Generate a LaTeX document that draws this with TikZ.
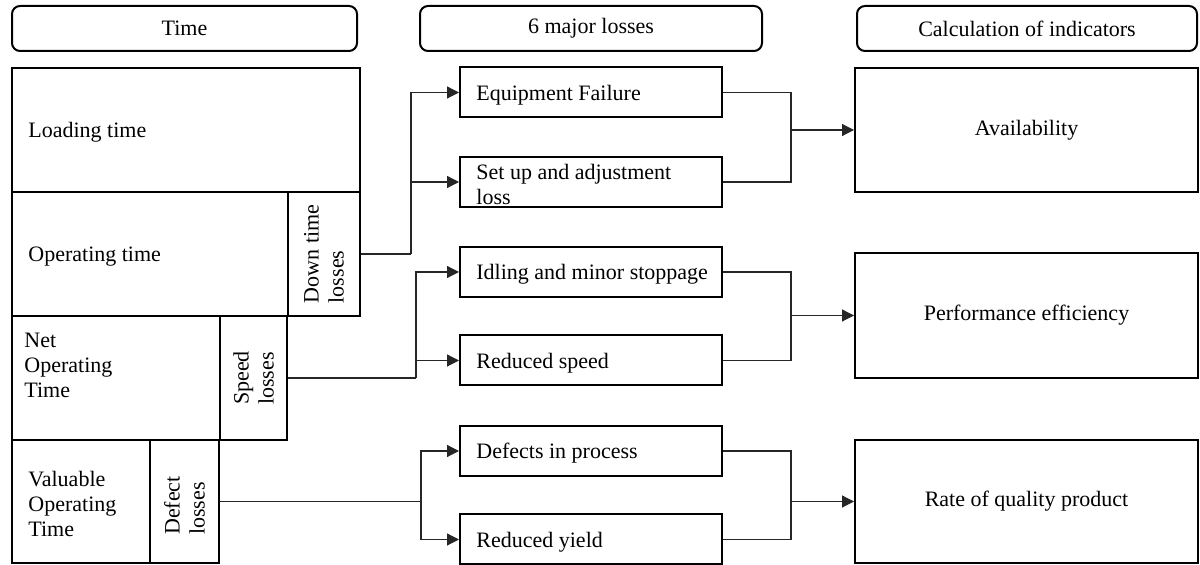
\documentclass[tikz,border=0pt]{standalone}
\usepackage{fontspec}
\setmainfont{Liberation Serif}
\usetikzlibrary{arrows.meta,calc}
\newcommand\lowr[1]{\raisebox{-1.2pt}{#1}}
\begin{document}
\begin{tikzpicture}[x=0.5pt,y=-0.5pt,
  every node/.style={font=\fontsize{11}{12.5}\selectfont},
  frame/.style={draw=black,line width=1pt,inner sep=0pt,rectangle},
  hdr/.style={draw=black,line width=1pt,rounded corners=4pt,inner sep=0pt,minimum height=22.5pt},
  mid/.style={frame,minimum width=131pt,minimum height=25pt},
  res/.style={frame,minimum width=171.5pt,minimum height=62pt},
  lbl/.style={anchor=west,inner sep=0pt,align=left,yshift=-1.2pt},
  rot/.style={rotate=90,align=left,inner sep=0pt},
  conn/.style={draw=black!85,line width=0.6pt},
  arr/.style={conn,-{Triangle[length=6pt,width=6pt]}}]
\useasboundingbox (0,0) rectangle (1200,565);
% headers
\node[hdr,minimum width=172.5pt] (h1) at (184.5,28.5) {\lowr{Time}};
\node[hdr,minimum width=171pt] (h2) at (591,28.5) {\lowr{6 major losses}};
\node[hdr,minimum width=170pt] (h3) at (1027,28.5) {\lowr{Calculation of indicators}};
% left column
\node[frame,minimum width=174pt,minimum height=62pt] (load) at (186,130) {};
\node[frame,minimum width=138pt,minimum height=62pt] (oper) at (150,254) {};
\node[frame,minimum width=36pt,minimum height=62pt] (down) at (324,254) {};
\node[frame,minimum width=104pt,minimum height=62pt] (net) at (116,378) {};
\node[frame,minimum width=33.5pt,minimum height=62pt] (speed) at (253.5,378) {};
\node[frame,minimum width=69pt,minimum height=61.5pt] (valu) at (81,501.5) {};
\node[frame,minimum width=34.5pt,minimum height=61.5pt] (defect) at (184.5,501.5) {};
\node[lbl] (tload) at (28,130) {Loading time};
\node[lbl] (toper) at (28,254) {Operating time};
\node[lbl,anchor=north west] (tnet) at (24,330) {Net\\Operating\\Time};
\node[lbl] (tvalu) at (28,502) {Valuable\\Operating\\Time};
\node[rot] (tdown) at (down.center) {Down time\\losses};
\node[rot] (tspeed) at (speed.center) {Speed\\losses};
\node[rot] (tdefect) at ([yshift=-2pt]defect.center) {Defect\\losses};
% middle boxes
\node[mid] (ef) at (591,92.5) {};
\node[mid] (su) at (591,182) {};
\node[mid] (id) at (591,272) {};
\node[mid] (rs) at (591,360.5) {};
\node[mid] (dp) at (591,451) {};
\node[mid] (ry) at (591,539.5) {};
\node[lbl] at (476,92.5) {Equipment Failure};
\node[lbl] at (476,182) {Set up and adjustment\\loss};
\node[lbl] at (476,272) {Idling and minor stoppage};
\node[lbl] at (476,360.5) {Reduced speed};
\node[lbl] at (476,451) {Defects in process};
\node[lbl] at (476,539.5) {Reduced yield};
% right boxes
\node[res] (av) at (1026.5,130) {\lowr{Availability}};
\node[res,minimum height=62.5pt] (pe) at (1026.5,315.5) {\lowr{Performance efficiency}};
\node[res,minimum height=61.5pt] (rq) at (1026.5,501.5) {\lowr{Rate of quality product}};
% left connectors
\coordinate (j1) at ($(down.east)+(25pt,0)$);
\draw[conn] (down.east) -- (j1);
\draw[arr] (j1) |- (ef.west);
\draw[arr] (j1) |- (su.west);
\coordinate (j2) at ($(speed.east)+(64pt,0)$);
\draw[conn] (speed.east) -- (j2);
\draw[arr] (j2) |- (id.west);
\draw[arr] (j2) |- (rs.west);
\coordinate (j3) at ($(defect.east)+(100.5pt,0)$);
\draw[conn] (defect.east) -- (j3);
\draw[arr] (j3) |- (dp.west);
\draw[arr] (j3) |- (ry.west);
% right connectors
\coordinate (m1) at ([xshift=34pt]ef.east |- av.west);
\draw[conn] (ef.east) -| (m1);
\draw[conn] (su.east) -| (m1);
\draw[arr] (m1) -- (av.west);
\coordinate (m2) at ([xshift=34pt]id.east |- pe.west);
\draw[conn] (id.east) -| (m2);
\draw[conn] (rs.east) -| (m2);
\draw[arr] (m2) -- (pe.west);
\coordinate (m3) at ([xshift=34pt]dp.east |- rq.west);
\draw[conn] (dp.east) -| (m3);
\draw[conn] (ry.east) -| (m3);
\draw[arr] (m3) -- (rq.west);
\end{tikzpicture}
\end{document}
